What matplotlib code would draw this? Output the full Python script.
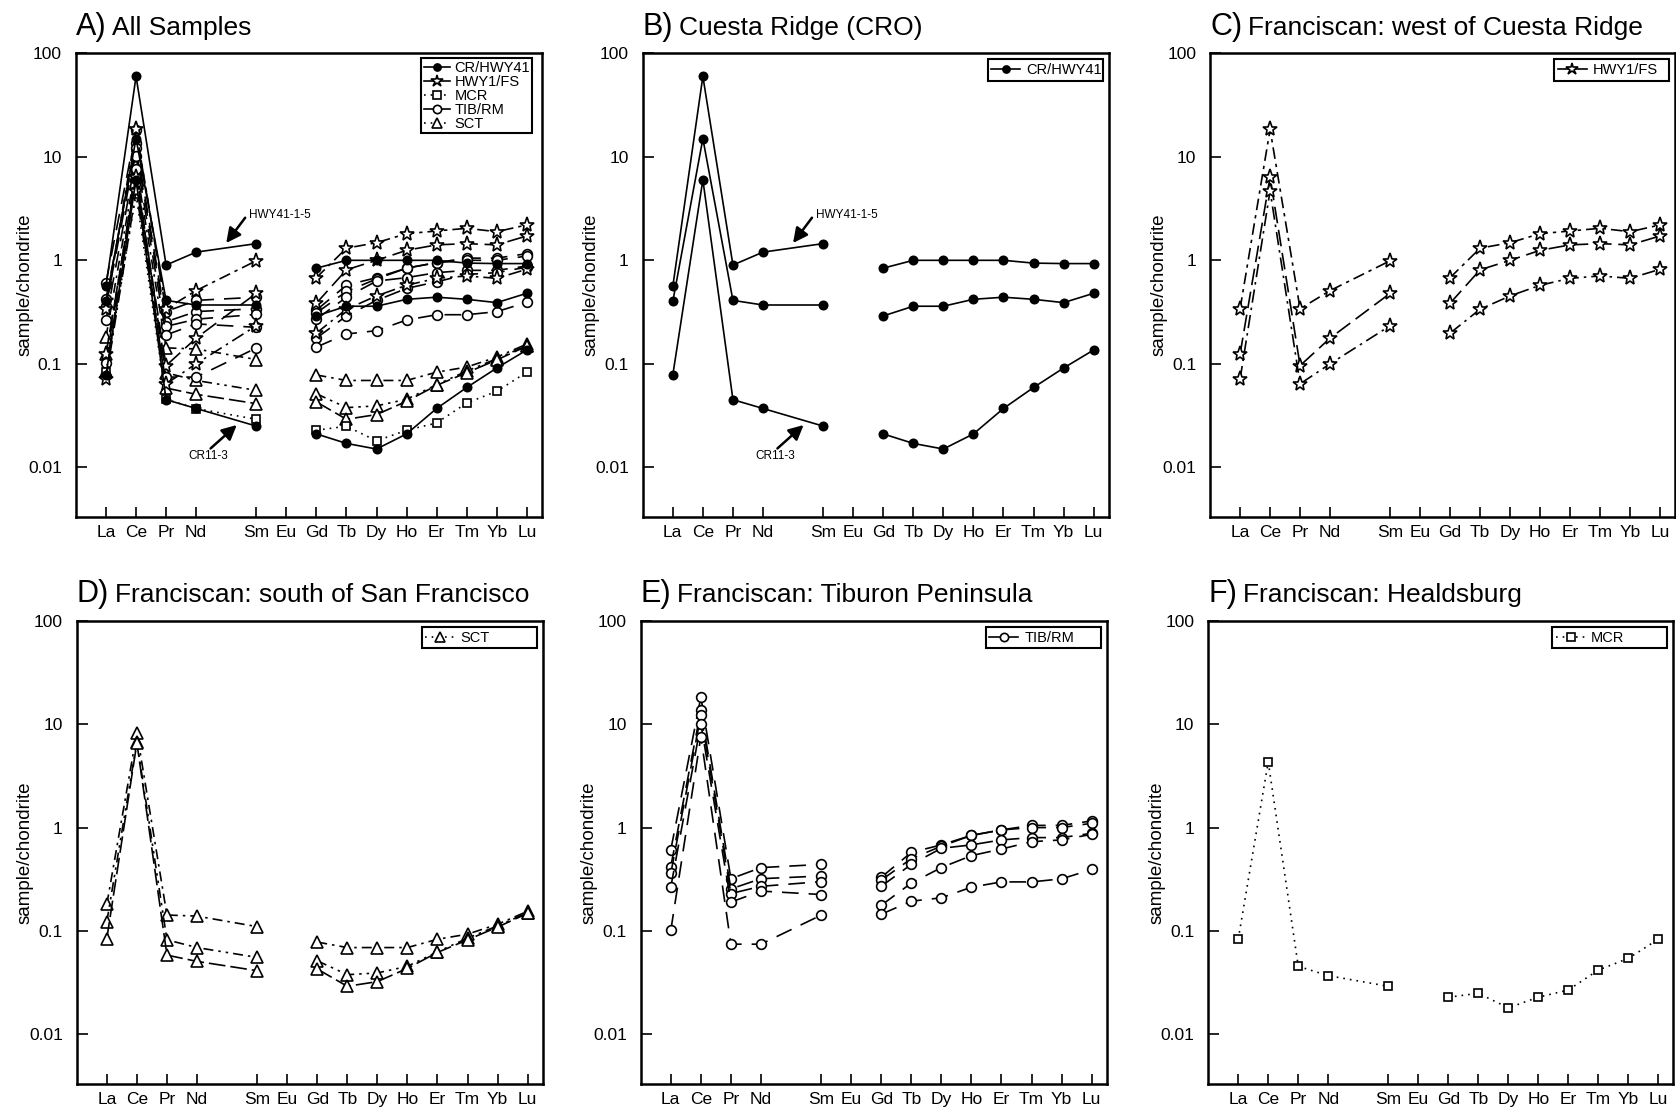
import numpy as np
import matplotlib.pyplot as plt
from matplotlib.lines import Line2D

plt.rcParams['font.family'] = ['Liberation Sans', 'DejaVu Sans']

nan = np.nan

# REE on the x axis (no Pm data), placed by atomic number
elements = ['La', 'Ce', 'Pr', 'Nd', 'Sm', 'Eu', 'Gd', 'Tb', 'Dy', 'Ho', 'Er', 'Tm', 'Yb', 'Lu']
atomic_no = [57, 58, 59, 60, 62, 63, 64, 65, 66, 67, 68, 69, 70, 71]

# CR/HWY41 - Cuesta Ridge
cr_hwy41_1_5 = [0.56, 60, 0.90, 1.20, 1.45, nan, 0.84, 1.0, 1.0, 1.0, 1.0, 0.94, 0.93, 0.93]
cr_mid = [0.40, 15, 0.41, 0.37, 0.37, nan, 0.29, 0.36, 0.36, 0.42, 0.44, 0.42, 0.39, 0.48]
cr11_3 = [0.078, 6.0, 0.045, 0.037, 0.025, nan, 0.021, 0.017, 0.015, 0.021, 0.037, 0.059, 0.091, 0.136]

# HWY1/FS - west of Cuesta Ridge
hwy1_a = [0.34, 18.4, 0.34, 0.51, 0.99, nan, 0.68, 1.31, 1.48, 1.81, 1.92, 2.04, 1.89, 2.2]
hwy1_b = [0.124, 6.4, 0.096, 0.177, 0.48, nan, 0.385, 0.81, 1.0, 1.25, 1.41, 1.45, 1.41, 1.72]
hwy1_c = [0.071, 4.7, 0.064, 0.10, 0.233, nan, 0.198, 0.337, 0.453, 0.574, 0.67, 0.706, 0.67, 0.82]

# MCR - Healdsburg
mcr = [0.083, 4.33, 0.0454, 0.0369, 0.0291, nan, 0.0228, 0.0249, 0.018, 0.0228, 0.0268, 0.0418, 0.0542, 0.083]

# TIB/RM - Tiburon Peninsula
tib_a = [0.61, 18.3, 0.32, 0.41, 0.44, nan, 0.33, 0.575, 0.68, 0.84, 0.95, 1.05, 1.05, 1.16]
tib_b = [0.42, 13.6, 0.255, 0.32, 0.34, nan, 0.31, 0.50, 0.66, 0.84, 0.95, 1.0, 1.0, 1.1]
tib_c = [0.36, 12.2, 0.23, 0.27, 0.30, nan, 0.27, 0.44, 0.63, 0.68, 0.76, 0.80, 0.80, 0.88]
tib_d = [0.265, 10.1, 0.19, 0.243, 0.225, nan, 0.177, 0.29, 0.41, 0.535, 0.62, 0.73, 0.76, 0.86]
tib_e = [0.101, 7.6, 0.0744, 0.0744, 0.142, nan, 0.145, 0.194, 0.209, 0.265, 0.298, 0.298, 0.319, 0.393]

# SCT - south of San Francisco
sct_a = [0.181, 8.3, 0.1425, 0.139, 0.110, nan, 0.078, 0.069, 0.069, 0.069, 0.083, 0.093, 0.116, 0.155]
sct_b = [0.123, 6.75, 0.082, 0.069, 0.0554, nan, 0.0514, 0.0377, 0.0392, 0.0454, 0.0628, 0.085, 0.112, 0.150]
sct_c = [0.0844, 6.6, 0.0583, 0.0507, 0.0412, nan, 0.0428, 0.0291, 0.0323, 0.0434, 0.0619, 0.082, 0.109, 0.148]

# style for each sample group
groups = {
    'CR/HWY41': dict(series=[cr_hwy41_1_5, cr_mid, cr11_3], ls=['-', '-', '-'], leg_ls='-',
                     marker='o', ms=6, mfc='black'),
    'HWY1/FS': dict(series=[hwy1_a, hwy1_b, hwy1_c],
                    ls=[(0, (7, 3, 2, 3)), (0, (10, 4)), (0, (8, 3, 1.5, 3))], leg_ls='-',
                    marker='*', ms=11, mfc='white'),
    'MCR': dict(series=[mcr], ls=[(0, (1, 3))], leg_ls=(0, (1, 3)),
                marker='s', ms=6, mfc='white'),
    'TIB/RM': dict(series=[tib_a, tib_b, tib_c, tib_d, tib_e], ls=[(0, (10, 6))] * 5, leg_ls='-',
                   marker='o', ms=7, mfc='white'),
    'SCT': dict(series=[sct_a, sct_b, sct_c],
                ls=[(0, (6, 3, 1.5, 3)), (0, (6, 3, 1.5, 3, 1.5, 3)), (0, (10, 3))], leg_ls=(0, (1, 3)),
                marker='^', ms=8.5, mfc='white'),
}
legend_order = ['CR/HWY41', 'HWY1/FS', 'MCR', 'TIB/RM', 'SCT']


def plot_group(ax, name):
    g = groups[name]
    for vals, ls in zip(g['series'], g['ls']):
        ax.plot(atomic_no, vals, color='black', lw=1.2, linestyle=ls, marker=g['marker'],
                ms=g['ms'], mfc=g['mfc'], mec='black', mew=1.2)


def handle(name):
    g = groups[name]
    return Line2D([], [], color='black', lw=1.2, linestyle=g['leg_ls'], marker=g['marker'],
                  ms=g['ms'] * 0.85, mfc=g['mfc'], mec='black', mew=1.2)


def setup(ax):
    ax.set_yscale('log')
    ax.set_ylim(0.0033, 100)
    ax.set_xlim(56, 71.5)
    ax.set_xticks(atomic_no)
    ax.set_xticklabels(elements)
    ax.set_yticks([0.01, 0.1, 1, 10, 100])
    ax.set_yticklabels(['0.01', '0.1', '1', '10', '100'])
    ax.yaxis.set_minor_locator(plt.NullLocator())
    ax.tick_params(axis='x', direction='in', length=7, width=1.2, labelsize=12.5, pad=6)
    ax.tick_params(axis='y', direction='in', length=8, width=1.2, labelsize=12.5, pad=10)
    for s in ax.spines.values():
        s.set_linewidth(1.8)
    ax.set_ylabel('sample/chondrite', fontsize=13.5)
    ax.yaxis.set_label_coords(-0.092, 0.5)


def single_legend(ax, name):
    leg = ax.legend([handle(name)], [name], loc='upper right', mode='expand',
                    bbox_to_anchor=(1 - 0.013 - 0.247, 0.8, 0.247, 0.187), borderaxespad=0,
                    fontsize=10.5, handlelength=2.0, handletextpad=0.4, borderpad=0.25,
                    fancybox=False, edgecolor='black', framealpha=1)
    leg.get_frame().set_linewidth(1.5)


def arrows(ax):
    ax.annotate('', xy=(61.0, 1.47), xytext=(61.63, 2.58),
                arrowprops=dict(arrowstyle='-|>', lw=1.8, color='black', mutation_scale=22,
                                shrinkA=0, shrinkB=0))
    ax.text(61.75, 2.76, 'HWY41-1-5', fontsize=8.5, ha='left', va='center')
    ax.annotate('', xy=(61.35, 0.0256), xytext=(60.48, 0.0152),
                arrowprops=dict(arrowstyle='-|>', lw=1.8, color='black', mutation_scale=22,
                                shrinkA=0, shrinkB=0))
    ax.text(59.75, 0.0128, 'CR11-3', fontsize=8.5, ha='left', va='center')


fig = plt.figure(figsize=(16.76, 11.12), dpi=100)
w, h = 0.278, 0.417
axA = fig.add_axes([0.0453, 0.535, w, h])
axB = fig.add_axes([0.3835, 0.535, w, h])
axC = fig.add_axes([0.7220, 0.535, 0.2775, h])
axD = fig.add_axes([0.0458, 0.0252, w, 0.4164])
axE = fig.add_axes([0.3823, 0.0252, w, 0.4164])
axF = fig.add_axes([0.7209, 0.0252, 0.2775, 0.4164])

titles = [(axA, 'A)', 'All Samples'),
          (axB, 'B)', 'Cuesta Ridge (CRO)'),
          (axC, 'C)', 'Franciscan: west of Cuesta Ridge'),
          (axD, 'D)', 'Franciscan: south of San Francisco'),
          (axE, 'E)', 'Franciscan: Tiburon Peninsula'),
          (axF, 'F)', 'Franciscan: Healdsburg')]

for ax, _, _ in titles:
    setup(ax)

# A) all samples
for name in ['SCT', 'TIB/RM', 'MCR', 'HWY1/FS', 'CR/HWY41']:
    plot_group(axA, name)
legA = axA.legend([handle(n) for n in legend_order], legend_order, loc='upper right',
                  bbox_to_anchor=(0.979, 0.989), borderaxespad=0, fontsize=10.5,
                  handlelength=1.8, handletextpad=0.3, labelspacing=0.0, borderpad=0.15,
                  fancybox=False, edgecolor='black', framealpha=1)
legA.get_frame().set_linewidth(1.5)
arrows(axA)

# B) - F) one group per panel
plot_group(axB, 'CR/HWY41')
single_legend(axB, 'CR/HWY41')
arrows(axB)

plot_group(axC, 'HWY1/FS')
single_legend(axC, 'HWY1/FS')

plot_group(axD, 'SCT')
single_legend(axD, 'SCT')

plot_group(axE, 'TIB/RM')
single_legend(axE, 'TIB/RM')

plot_group(axF, 'MCR')
single_legend(axF, 'MCR')

# panel titles: big letter, smaller text
fig.canvas.draw()
r = fig.canvas.get_renderer()
for ax, letter, rest in titles:
    t = ax.text(0.0, 1.04, letter, transform=ax.transAxes, fontsize=22, va='baseline')
    bb = t.get_window_extent(r)
    x1 = ax.transAxes.inverted().transform((bb.x1, bb.y0))[0]
    ax.text(x1 + 0.012, 1.04, rest, transform=ax.transAxes, fontsize=19, va='baseline')

fig.savefig('out.png', dpi=100)
